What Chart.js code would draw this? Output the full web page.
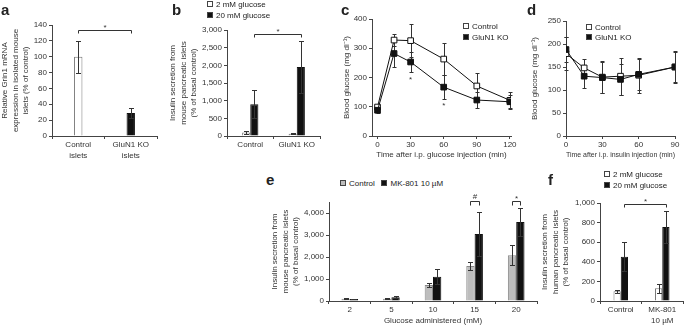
<!DOCTYPE html>
<html>
<head>
<meta charset="utf-8">
<script src="https://cdn.jsdelivr.net/npm/chart.js@4"></script>
<style>
  body { margin: 0; background: #fff; }
  #fig { position: relative; width: 685px; height: 327px; overflow: hidden;
         font-family: 'Liberation Sans', Arial, Helvetica, sans-serif; color: #222; }
  canvas { position: absolute; }
  .lt { position: absolute; font-weight: bold; font-size: 15px; line-height: 13px; }
  .lg { position: absolute; font-size: 8px; line-height: 10px; white-space: nowrap; color: #222; }
  .sq { display: inline-block; width: 4px; height: 4px; border: 1px solid #444; margin-right: 3px; }
</style>
</head>
<body>
<div id="fig">
  <canvas id="chartA" width="165" height="152" style="left:0;top:15px"></canvas>
  <canvas id="chartB" width="160" height="152" style="left:168px;top:15px"></canvas>
  <canvas id="chartC" width="180" height="152" style="left:340px;top:10px"></canvas>
  <canvas id="chartD" width="175" height="152" style="left:510px;top:10px"></canvas>
  <canvas id="chartE" width="277" height="137" style="left:265px;top:190px"></canvas>
  <canvas id="chartF" width="145" height="137" style="left:540px;top:190px"></canvas>

  <div class="lt" style="left:1px;top:3px">a</div>
  <div class="lt" style="left:172px;top:3px">b</div>
  <div class="lt" style="left:341px;top:3px">c</div>
  <div class="lt" style="left:527px;top:3px">d</div>
  <div class="lt" style="left:266px;top:173px">e</div>
  <div class="lt" style="left:548px;top:173px">f</div>

  <div class="lg" style="left:207px;top:0px"><span class="sq" style="background:#fff"></span>2 mM glucose</div>
  <div class="lg" style="left:207px;top:11px"><span class="sq" style="background:#111"></span>20 mM glucose</div>

  <div class="lg" style="left:463px;top:22px"><span class="sq" style="background:#fff"></span>Control</div>
  <div class="lg" style="left:463px;top:33px"><span class="sq" style="background:#111"></span>GluN1 KO</div>

  <div class="lg" style="left:586px;top:23px"><span class="sq" style="background:#fff"></span>Control</div>
  <div class="lg" style="left:586px;top:33px"><span class="sq" style="background:#111"></span>GluN1 KO</div>

  <div class="lg" style="left:340px;top:179px"><span class="sq" style="background:#bdbdbd"></span>Control&nbsp;&nbsp;&nbsp;<span class="sq" style="background:#111"></span>MK-801 10 µM</div>

  <div class="lg" style="left:604px;top:170px"><span class="sq" style="background:#fff"></span>2 mM glucose</div>
  <div class="lg" style="left:604px;top:181px"><span class="sq" style="background:#111"></span>20 mM glucose</div>
</div>

<script>
// panel a: Grin1 mRNA
const aLabels = [['Control', 'islets'], ['GluN1 KO', 'islets']];
const aValues = [100, 29];
const aErrors = [20, 6.5];

// panel b: mouse islets insulin secretion
const bLabels = ['Control', 'GluN1 KO'];
const b2mM = [100, 62];
const b2mMErr = [40, 10];
const b20mM = [900, 1955];
const b20mMErr = [400, 740];

// panel c: glucose tolerance
const cTimes = [0, 15, 30, 60, 90, 120];
const cControl = [99, 328, 326, 263, 171, 122];
const cControlErr = [8, 22, 56, 54, 43, 30];
const cKO = [88, 282, 253, 167, 123, 117];
const cKOErr = [8, 45, 34, 40, 27, 22];
const cTicks = [0, 30, 60, 90, 120];
const cStarTimes = [30, 60];
const cStarLevels = [200, 110];

// panel d: insulin tolerance
const dTimes = [0, 15, 30, 45, 60, 90];
const dControl = [179, 148, 128, 130, 132, 150];
const dControlErr = [36, 20, 35, 40, 38, 35];
const dKO = [188, 130, 127, 123, 134, 150];
const dKOErr = [28, 25, 34, 34, 33, 33];

// panel e: MK-801 dose vs glucose
const eLabels = ['2', '5', '10', '15', '20'];
const eControl = [100, 100, 727, 1590, 2075];
const eControlErr = [20, 20, 75, 190, 450];
const eMK = [90, 170, 1105, 3045, 3590];
const eMKErr = [20, 45, 335, 1000, 650];

// panel f: human islets
const fLabels = ['Control', ['MK-801', '10 µM']];
const f2mM = [100, 129];
const f2mMErr = [17, 44];
const f20mM = [451, 756];
const f20mMErr = [146, 163];

const FONT = "'Liberation Sans', Arial, Helvetica, sans-serif";
Chart.defaults.font.family = FONT;
Chart.defaults.font.size = 8;
Chart.defaults.font.lineHeight = 1.3;
Chart.defaults.color = '#333';
Chart.defaults.animation = false;
Chart.defaults.responsive = false;
Chart.defaults.maintainAspectRatio = false;
Chart.defaults.plugins.legend.display = false;
Chart.defaults.plugins.tooltip.enabled = false;

const INK = '#444';

function drawErrors(chart, opts) {
  const ctx = chart.ctx;
  const ys = chart.scales.y;
  const cap = opts.cap || 2.5;
  ctx.save();
  ctx.strokeStyle = '#333';
  ctx.lineWidth = 1;
  chart.data.datasets.forEach((ds, i) => {
    if (!ds.errors) return;
    chart.getDatasetMeta(i).data.forEach((el, j) => {
      const raw = ds.data[j];
      const v = typeof raw === 'object' ? raw.y : raw;
      const e = ds.errors[j];
      const x = Math.round(el.x) + 0.5;
      const t = Math.round(ys.getPixelForValue(v + e)) + 0.5;
      const b = Math.round(ys.getPixelForValue(Math.max(v - e, 0))) + 0.5;
      ctx.beginPath();
      ctx.moveTo(x, t); ctx.lineTo(x, b);
      ctx.moveTo(x - cap, t); ctx.lineTo(x + cap, t);
      ctx.moveTo(x - cap, b); ctx.lineTo(x + cap, b);
      ctx.stroke();
    });
  });
  ctx.restore();
}

function drawMarks(chart, opts) {
  const ctx = chart.ctx;
  const ys = chart.scales.y;
  ctx.save();
  ctx.strokeStyle = '#333';
  ctx.fillStyle = '#333';
  ctx.lineWidth = 1;
  ctx.font = '8px ' + FONT;
  ctx.textAlign = 'center';
  (opts.brackets || []).forEach(br => {
    const x1 = Math.round(chart.getDatasetMeta(br.from[0]).data[br.from[1]].x) + 0.5;
    const x2 = Math.round(chart.getDatasetMeta(br.to[0]).data[br.to[1]].x) + 0.5;
    const y = Math.round(ys.getPixelForValue(br.y)) + 0.5;
    const drop = br.drop || 3;
    ctx.beginPath();
    ctx.moveTo(x1, y + drop); ctx.lineTo(x1, y); ctx.lineTo(x2, y); ctx.lineTo(x2, y + drop);
    ctx.stroke();
    ctx.fillText(br.label, (x1 + x2) / 2, y - (br.label === '*' ? 1 : 2.5));
  });
  (opts.stars || []).forEach(s => {
    const x = chart.scales.x.getPixelForValue(s.x);
    const y = ys.getPixelForValue(s.y);
    ctx.fillText(s.label, x, y + 4.5);
  });
  ctx.restore();
}

Chart.register({
  id: 'errorBars',
  beforeDatasetsDraw(chart, args, opts) { if (opts.behind) drawErrors(chart, opts); },
  afterDatasetsDraw(chart, args, opts) { if (!opts.behind) drawErrors(chart, opts); },
  afterDraw(chart, args, opts) { drawMarks(chart, opts); }
});

function yAxis(max, step, title, width, titlePad) {
  return {
    min: 0, max: max,
    ticks: { stepSize: step, padding: 2, callback: v => v.toLocaleString('en-US') },
    grid: { drawOnChartArea: false, tickLength: 3, color: INK },
    border: { color: INK },
    title: { display: true, text: title, padding: { top: titlePad, bottom: 0 } },
    afterFit: s => { s.width = width; }
  };
}

function xAxis(height, extra) {
  return Object.assign({
    grid: { drawOnChartArea: false, tickLength: 3, color: INK },
    border: { color: INK },
    ticks: { padding: 1, maxRotation: 0, autoSkip: false },
    afterFit: s => { s.height = height; }
  }, extra);
}

function barSet(label, data, errors, fill, border) {
  return { label, data, errors, backgroundColor: fill, borderColor: border, borderWidth: 1,
           categoryPercentage: 1, barPercentage: 1 };
}

// a
new Chart(document.getElementById('chartA'), {
  type: 'bar',
  data: {
    labels: aLabels,
    datasets: [Object.assign(barSet('Grin1', aValues, aErrors, ['#fff', '#111'], ['#777', '#111']),
      { categoryPercentage: 0.16 })]
  },
  options: {
    layout: { padding: { top: 10, right: 8 } },
    scales: {
      x: xAxis(31),
      y: yAxis(140, 20, ['Relative Grin1 mRNA', 'expression in isolated mouse', 'islets (% of control)'], 52, 0)
    },
    plugins: { errorBars: { cap: 2.5, brackets: [{ from: [0, 0], to: [0, 1], y: 134, label: '*' }] } }
  }
});

// b
new Chart(document.getElementById('chartB'), {
  type: 'bar',
  data: {
    labels: bLabels,
    datasets: [
      Object.assign(barSet('2 mM glucose', b2mM, b2mMErr, '#fff', '#777'), { categoryPercentage: 0.35 }),
      Object.assign(barSet('20 mM glucose', b20mM, b20mMErr, '#111', '#111'), { categoryPercentage: 0.35 })
    ]
  },
  options: {
    layout: { padding: { top: 15, right: 8 } },
    scales: {
      x: xAxis(31),
      y: yAxis(3000, 500, ['Insulin secretion from', 'mouse pancreatic islets', '(% of basal control)'], 59, 0)
    },
    plugins: { errorBars: { cap: 2.5, brackets: [{ from: [1, 0], to: [1, 1], y: 2900, label: '*' }] } }
  }
});

function lineSet(label, xs, ys, errs, fill) {
  return {
    label,
    data: xs.map((t, i) => ({ x: t, y: ys[i] })),
    errors: errs,
    borderColor: '#111', borderWidth: 1,
    pointStyle: 'rect', pointRadius: 4, pointBackgroundColor: fill,
    pointBorderColor: '#111', pointBorderWidth: 1
  };
}

// c
new Chart(document.getElementById('chartC'), {
  type: 'line',
  data: {
    datasets: [
      lineSet('GluN1 KO', cTimes, cKO, cKOErr, '#111'),
      lineSet('Control', cTimes, cControl, cControlErr, '#fff')
    ]
  },
  options: {
    layout: { padding: { top: 9, right: 9 } },
    scales: {
      x: xAxis(26, {
        type: 'linear', min: -5, max: 121,
        afterBuildTicks: s => { s.ticks = cTicks.map(v => ({ value: v })); },
        title: { display: true, text: 'Time after i.p. glucose injection (min)', padding: { top: 0, bottom: 2 } }
      }),
      y: yAxis(400, 100, 'Blood glucose (mg dl⁻¹)', 32, 2)
    },
    plugins: { errorBars: { behind: true, cap: 2,
      stars: cStarTimes.map((t, i) => ({ x: t, y: cStarLevels[i], label: '*' })) } }
  }
});

// d
new Chart(document.getElementById('chartD'), {
  type: 'line',
  data: {
    datasets: [
      lineSet('GluN1 KO', dTimes, dKO, dKOErr, '#111'),
      lineSet('Control', dTimes, dControl, dControlErr, '#fff')
    ]
  },
  options: {
    layout: { padding: { top: 11, right: 10 } },
    scales: {
      x: xAxis(26, {
        type: 'linear', min: 0, max: 90, ticks: { stepSize: 30, padding: 1, maxRotation: 0 },
        title: { display: true, text: 'Time after i.p. insulin injection (min)', padding: { top: 0, bottom: 2 } }
      }),
      y: yAxis(250, 50, 'Blood glucose (mg dl⁻¹)', 56, 20)
    },
    plugins: { errorBars: { behind: true, cap: 2 } }
  }
});

// e
new Chart(document.getElementById('chartE'), {
  type: 'bar',
  data: {
    labels: eLabels,
    datasets: [
      Object.assign(barSet('Control', eControl, eControlErr, '#bdbdbd', '#888'), { categoryPercentage: 0.4 }),
      Object.assign(barSet('MK-801 10 µM', eMK, eMKErr, '#111', '#111'), { categoryPercentage: 0.4 })
    ]
  },
  options: {
    layout: { padding: { top: 12, right: 5 } },
    scales: {
      x: xAxis(26, { title: { display: true, text: 'Glucose administered (mM)', padding: { top: 0, bottom: 1 } } }),
      y: yAxis(4500, 500, ['Insulin secretion from', 'mouse pancreatic islets', '(% of basal control)'], 64, 5)
    },
    plugins: { errorBars: { cap: 2.5, brackets: [
      { from: [0, 3], to: [1, 3], y: 4550, drop: 4, label: '#' },
      { from: [0, 4], to: [1, 4], y: 4550, drop: 4, label: '*' }
    ] } }
  }
});

// f
new Chart(document.getElementById('chartF'), {
  type: 'bar',
  data: {
    labels: fLabels,
    datasets: [
      Object.assign(barSet('2 mM glucose', f2mM, f2mMErr, '#fff', '#777'), { categoryPercentage: 0.35 }),
      Object.assign(barSet('20 mM glucose', f20mM, f20mMErr, '#111', '#111'), { categoryPercentage: 0.35 })
    ]
  },
  options: {
    layout: { padding: { top: 13, right: 2 } },
    scales: {
      x: xAxis(26),
      y: yAxis(1000, 200, ['Insulin secretion from', 'human pancreatic islets', '(% of basal control)'], 60, 0)
    },
    plugins: { errorBars: { cap: 2.5, brackets: [{ from: [1, 0], to: [1, 1], y: 985, label: '*' }] } }
  }
});
</script>
</body>
</html>
